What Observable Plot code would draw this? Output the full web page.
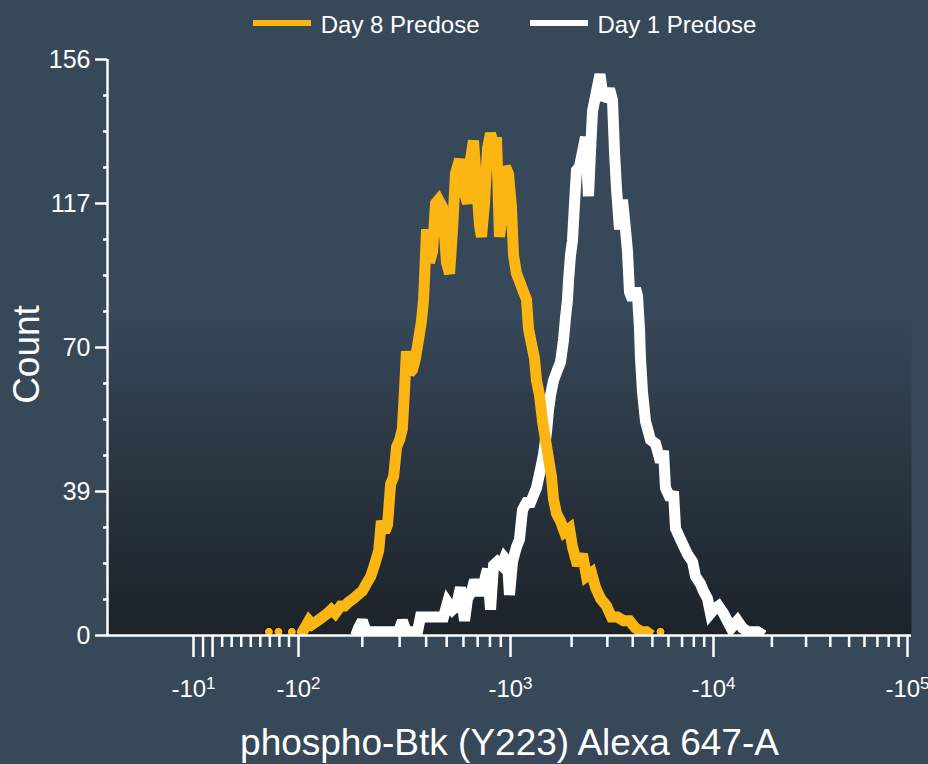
<!DOCTYPE html>
<html>
<head>
<meta charset="utf-8">
<script src="https://cdn.jsdelivr.net/npm/d3@7"></script>
<script src="https://cdn.jsdelivr.net/npm/@observablehq/plot@0.6"></script>
<style>
  html, body { margin: 0; padding: 0; background: #374859; width: 928px; height: 764px; overflow: hidden;
    font-family: "Liberation Sans", Arial, sans-serif; }
  #legend { height: 46px; display: flex; align-items: center; justify-content: center; padding-left: 81px;
    color: #fff; font-size: 24px; box-sizing: border-box; }
  .item { display: flex; align-items: center; margin: 0 25px; }
  .sw { width: 58px; height: 6px; margin-right: 10px; }
  .lab { padding-top: 3px; }
  #chart svg { display: block; }
</style>
</head>
<body>
<div id="legend"></div>
<div id="chart"></div>
<script>
// ---- series ----
const seriesNames = ["Day 8 Predose", "Day 1 Predose"];
const seriesColors = ["#fbb614", "#ffffff"];

// Day 8 Predose histogram (fluorescence intensity, event count)
const day8Intensity = [102,107,112,116,123,130,137,143,149,158,
  165,172,182,190,200,209,219,228,239,246,
  255,263,272,281,290,300,309,316,323,334,
  345,356,368,380,389,402,415,429,443,458,
  478,499,516,533,550,575,600,627,648,669,
  691,714,730,754,779,805,832,859,887,917,
  947,979,1011,1035,1070,1107,1159,1199,1227,1269,
  1313,1343,1390,1438,1487,1539,1592,1628,1685,1763,
  1845,1952,2020,2138,2263,2368,2506,2623,2776,2972,
  3144,3366,3603,3856,4128,4419,4677,4950];
const day8Count = [0,2,4,3,4,5,6,7,6,8,
  8,9,10,11,12,14,16,19,23,31,
  28,30,41,43,51,53,56,66,77,71,
  72,75,80,85,91,110,101,104,117,118,
  116,101,98,110,125,129,121,117,129,134,
  123,111,108,117,132,136,133,135,108,114,
  127,125,116,103,98,96,93,91,83,79,
  75,69,65,58,53,48,43,37,33,31,
  28,29,24,19,22,16,17,13,10,8,
  5,5,4,4,2,1,1,0];
// isolated low-count events of Day 8
const day8SparseIntensity = [69, 79, 93, 5480];
const day8SparseCount = [1, 1, 1, 1];

// Day 1 Predose histogram
const day1Intensity = [186,192,200,209,219,244,272,296,309,323,
  345,364,376,410,448,483,505,533,556,581,
  607,627,655,677,707,738,762,779,805,832,
  868,907,937,968,989,1023,1070,1107,1146,1199,
  1255,1298,1343,1405,1454,1504,1539,1574,1628,1704,
  1763,1824,1866,1909,1931,1975,2020,2067,2114,2187,
  2263,2341,2422,2478,2535,2623,2760,2872,2972,3074,
  3180,3253,3328,3443,3562,3685,3770,3856,3990,4128,
  4223,4320,4369,4469,4624,4730,4893,5180,5482,5672,
  5801,6141,6353,6500,6880,7448,7882,8154,8629,8929,
  9342,9665,10000,10610,11260,12330,13290,14110,15150,16860,18110];
const day1Count = [0,2,4,1,1,1,1,1,4,1,
  1,1,5,5,5,5,9,7,8,13,
  4,10,12,15,12,12,16,18,7,19,
  20,19,21,20,11,20,24,26,34,36,
  36,38,40,45,49,55,61,65,69,72,
  74,80,86,91,96,103,107,117,126,127,
  131,135,119,131,142,146,152,145,146,148,
  145,131,121,110,118,110,104,93,91,94,
  92,83,75,66,58,56,53,52,47,50,
  40,37,39,29,26,22,20,16,14,12,
  10,6,7,8,6,2,4,2,1,1,0];

// ---- axes ----
const yTicks = [0, 39, 78, 117, 156];
const yTickLabels = ["0", "39", "70", "117", "156"];
const yMinorTicks = [9.75, 19.5, 29.25, 48.75, 58.5, 68.25, 87.75, 97.5, 107.25, 126.75, 136.5, 146.25];
const xMajorTicks = [-10, 0, 10, 100, 1000, 10000, 100000];
const xTickLabels = ["-10¹", "", "", "-10²", "-10³", "-10⁴", "-10⁵"];
const xMinorTicks = [20, 30, 40, 50, 60, 70, 80, 90,
  200, 300, 400, 500, 600, 700, 800, 900,
  2000, 3000, 4000, 5000, 6000, 7000, 8000, 9000,
  20000, 30000, 40000, 50000, 60000, 70000, 80000, 90000];
const xTitle = "phospho-Btk (Y223) Alexa 647-A";
const yTitle = "Count";

// ---- tables ----
const day8 = day8Intensity.map((v, i) => ({intensity: v, count: day8Count[i]}));
const day1 = day1Intensity.map((v, i) => ({intensity: v, count: day1Count[i]}));
const day8Sparse = day8SparseIntensity.map((v, i) => ({intensity: v, count: day8SparseCount[i]}));

// biexponential-like display transform: linear below 100, log above
const logicle = v => v < 100 ? 2 + (v - 100) / (100 * Math.LN10) : Math.log10(v);
const xLabelByT = new Map(xMajorTicks.map((v, i) => [logicle(v), xTickLabels[i]]));
const yLabelBy = new Map(yTicks.map((v, i) => [v, yTickLabels[i]]));

const white = "#ffffff";
const lineStyle = {x: "intensity", y: "count", strokeWidth: 11, strokeLinejoin: "miter", strokeMiterlimit: 2.5, strokeLinecap: "butt", clip: true};
const chart = Plot.plot({
  width: 928,
  height: 718,
  marginTop: 13,
  marginBottom: 129,
  marginLeft: 107,
  marginRight: 17,
  style: {background: "transparent", color: white, fontFamily: "'Liberation Sans', Arial, sans-serif", fontSize: "24px", overflow: "visible"},
  x: {type: "linear", transform: logicle,
      domain: [-100, -10, 100, 1e3, 1e4, 1e5, 1.05e5].map(logicle),
      range: [107, 193, 298, 510, 713, 907, 911]},
  y: {domain: [0, 156]},
  marks: [
    Plot.frame({fill: "url(#plotBg)", stroke: "none"}),
    Plot.line(day1, {...lineStyle, stroke: seriesColors[1]}),
    Plot.line(day8, {...lineStyle, stroke: seriesColors[0]}),
    Plot.dot(day8Sparse, {x: "intensity", y: "count", r: 4.5, fill: seriesColors[0], stroke: "#000", strokeWidth: 1, clip: true}),
    Plot.ruleY([0], {stroke: white, strokeWidth: 2.5}),
    Plot.ruleX([-100], {stroke: white, strokeWidth: 2.5}),
    Plot.axisY({ticks: yTicks, tickFormat: d => yLabelBy.get(d), tickSize: 12, tickPadding: 5, strokeWidth: 2.5, label: null, fontSize: 25}),
    Plot.axisY({ticks: yMinorTicks, tickFormat: () => "", tickSize: 4, strokeWidth: 2.5, label: null}),
    Plot.axisY({ticks: [], label: yTitle, labelAnchor: "center", labelArrow: "none", labelOffset: 95, fontSize: 37}),
    Plot.axisX({ticks: xMajorTicks.map(logicle), tickFormat: t => xLabelByT.get(t), tickSize: 22, tickPadding: 22, strokeWidth: 2.5, label: null, fontSize: 24}),
    Plot.axisX({ticks: xMinorTicks.map(logicle), tickFormat: () => "", tickSize: 12, strokeWidth: 2.5, label: null}),
    Plot.axisX({ticks: [], label: xTitle, labelAnchor: "center", labelArrow: "none", labelOffset: 119, fontSize: 37})
  ]
});

// gradient behind the plotting area
const svgNS = "http://www.w3.org/2000/svg";
const defs = document.createElementNS(svgNS, "defs");
defs.innerHTML = `<linearGradient id="plotBg" x1="0" y1="0" x2="0" y2="1">
  <stop offset="0" stop-color="#374859"/>
  <stop offset="0.44" stop-color="#374859"/>
  <stop offset="1" stop-color="#1c2228"/>
</linearGradient>`;
chart.insertBefore(defs, chart.firstChild);

// render superscript exponents of the x tick labels as raised smaller digits
const supDigits = {"¹": "1", "²": "2", "³": "3", "⁴": "4", "⁵": "5"};
chart.querySelectorAll("text").forEach(el => {
  const s = el.textContent;
  const m = s.match(/^(.*10)([¹²³⁴⁵])$/u);
  if (m) {
    while (el.firstChild) el.removeChild(el.firstChild);
    el.appendChild(document.createTextNode(m[1]));
    const ts = document.createElementNS(svgNS, "tspan");
    ts.setAttribute("dy", "-0.42em");
    ts.setAttribute("font-size", "17px");
    ts.textContent = supDigits[m[2]];
    el.appendChild(ts);
  } else if (s === yTitle) {
    el.setAttribute("transform", "translate(0,7) " + (el.getAttribute("transform") || ""));
  }
});
document.getElementById("chart").appendChild(chart);

// legend
const legend = d3.select("#legend");
seriesNames.forEach((name, i) => {
  const item = legend.append("div").attr("class", "item");
  item.append("div").attr("class", "sw").style("background", seriesColors[i]);
  item.append("span").attr("class", "lab").text(name);
});
</script>
</body>
</html>
